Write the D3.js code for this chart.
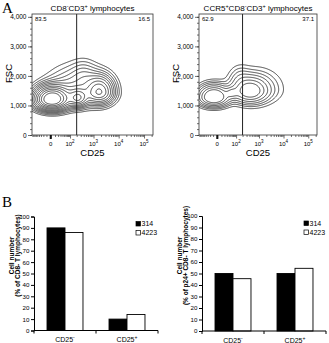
<!DOCTYPE html>
<html>
<head>
<meta charset="utf-8">
<script src="https://cdn.jsdelivr.net/npm/d3@7"></script>
<style>
  body { margin: 0; background: #fff; }
  svg { display: block; font-family: "Liberation Sans", Arial, sans-serif; }
</style>
</head>
<body>
<div id="fig"></div>
<script>
// ---- panel A : flow contour plots ----
const fscTicks = [0, 1000, 2000, 3000, 4000]
const fscMinorTicks = d3.range(0, 4001, 200)
const cd25Ticks = [0, 1e2, 1e3, 1e4, 1e5]
const cd25TickLabels = [["0", ""], ["10", "2"], ["10", "3"], ["10", "4"], ["10", "5"]]
const cd25MinorTicks = [-90, -80, -70, -60, -50, -40, -30, -20, -10, 10, 20, 30, 40, 50, 60, 70, 80, 90,
  200, 300, 400, 500, 600, 700, 800, 900, 2000, 3000, 4000, 5000, 6000, 7000, 8000, 9000,
  20000, 30000, 40000, 50000, 60000, 70000, 80000, 90000, 200000]
const gateCD25 = 200
const leftTitle = [["CD8", "-"], ["CD3", "+"], [" lymphocytes", ""]]
const rightTitle = [["CCR5", "+"], ["CD8", "-"], ["CD3", "+"], [" lymphocytes", ""]]
const leftQuadrants = ["83.5", "16.5"]
const rightQuadrants = ["62.9", "37.1"]
// populations: [CD25 centre, FSC centre, CD25 spread (display units), FSC spread below, FSC spread above, weight]
const leftPops = [
  [2, 1200, 0.9, 200, 260, 1.0],
  [230, 1230, 0.5, 160, 200, 0.35],
  [1800, 1450, 0.75, 230, 330, 0.42],
  [200, 1450, 1.6, 300, 500, 0.17],
  [400, 2050, 0.7, 250, 300, 0.05]
]
const rightPops = [
  [-8, 1280, 0.8, 170, 230, 1.0],
  [60, 1420, 0.35, 110, 120, 0.25],
  [400, 1480, 0.9, 220, 260, 0.65],
  [750, 1550, 1.3, 280, 380, 0.2],
  [150, 1950, 0.6, 250, 250, 0.08]
]
const leftLevels = [0.02, 0.035, 0.055, 0.08, 0.11, 0.15, 0.2, 0.27, 0.35, 0.45, 0.57, 0.72]
const rightLevels = [0.03, 0.06, 0.1, 0.16, 0.25, 0.38, 0.55]

// ---- panel B : bar charts ----
const barCategories = ["CD25-", "CD25+"]
const barSeries = ["314", "4223"]
const cd8Values314 = [90, 10]
const cd8Values4223 = [86, 14]
const p24Values314 = [50, 50]
const p24Values4223 = [45.5, 54.5]
const barYTicks = [0, 10, 20, 30, 40, 50, 60, 70, 80, 90, 100]

const W = 329, H = 343
const svg = d3.select("#fig").append("svg").attr("width", W).attr("height", H)

// text with small raised parts, parts = [[base, sup], ...]
function richText(sel, parts, supSize) {
  let shift = 0
  parts.forEach(([base, sup]) => {
    const b = sel.append("tspan").text(base)
    if (shift) { b.attr("dy", shift); shift = 0 }
    if (sup) {
      sel.append("tspan").attr("font-size", supSize).attr("dy", -3).text(sup)
      shift = 3
    }
  })
  return sel
}

const symC = 21
const toDisplay = v => Math.sign(v) * Math.log1p(Math.abs(v) / symC)

function flowPlot(opts) {
  const {x0, x1, y0, y1, pops, levels, title, quads, id} = opts
  const g = svg.append("g")

  const x = d3.scaleSymlog().constant(symC).domain([-94, 226000]).range([x0, x1])
  const y = d3.scaleLinear().domain([0, 4096]).range([y1, y0])

  // density grid (1px cells) extended left of the frame, then clipped
  const gx0 = x0 - 25
  const nx = Math.round(x1 - gx0), ny = Math.round(y1 - y0)
  const values = new Float64Array(nx * ny)
  const popsD = pops.map(p => [toDisplay(p[0]), p[1], p[2], p[3], p[4], p[5]])
  let max = 0
  for (let j = 0; j < ny; j++) {
    const fsc = y.invert(y0 + j + 0.5)
    for (let i = 0; i < nx; i++) {
      const u = toDisplay(x.invert(gx0 + i + 0.5))
      let d = 0
      popsD.forEach(([uc, vc, su, svd, svu, w]) => {
        const sv = fsc < vc ? svd : svu
        d += w * Math.exp(-0.5 * ((u - uc) / su) ** 2 - 0.5 * ((fsc - vc) / sv) ** 2)
      })
      values[j * nx + i] = d
      if (d > max) max = d
    }
  }
  const contours = d3.contours().size([nx, ny]).thresholds(levels.map(l => l * max))(values)

  svg.append("defs").append("clipPath").attr("id", id)
    .append("rect").attr("x", x0).attr("y", y0).attr("width", x1 - x0).attr("height", y1 - y0)

  g.append("g").attr("clip-path", `url(#${id})`)
    .selectAll("path").data(contours).join("path")
    .attr("d", d3.geoPath(d3.geoIdentity().translate([gx0, y0])))
    .attr("fill", "none").attr("stroke", "#111").attr("stroke-width", 0.75)

  // gate line and frame
  g.append("line").attr("x1", x(gateCD25)).attr("x2", x(gateCD25)).attr("y1", y0).attr("y2", y1)
    .attr("stroke", "#222").attr("stroke-width", 1)
  g.append("rect").attr("x", x0).attr("y", y0).attr("width", x1 - x0).attr("height", y1 - y0)
    .attr("fill", "none").attr("stroke", "#333").attr("stroke-width", 0.8)

  // y axis
  const yAxisMinor = d3.axisLeft(y).tickValues(fscMinorTicks).tickSize(2).tickFormat("")
  const yAxis = d3.axisLeft(y).tickValues(fscTicks).tickSize(4).tickPadding(1.5)
  g.append("g").attr("transform", `translate(${x0},0)`).call(yAxisMinor)
  g.append("g").attr("transform", `translate(${x0},0)`).call(yAxis)
    .attr("font-size", 6.5).attr("font-family", null)
  g.selectAll(".domain").remove()
  g.selectAll(".tick line").attr("stroke", "#333").attr("stroke-width", 0.7)

  // x axis
  const xAxisMinor = d3.axisBottom(x).tickValues(cd25MinorTicks).tickSize(2).tickFormat("")
  const xAxis = d3.axisBottom(x).tickValues(cd25Ticks).tickSize(3.5).tickFormat("")
  const xg = g.append("g").attr("transform", `translate(0,${y1})`)
  xg.append("g").call(xAxisMinor)
  xg.append("g").call(xAxis)
  xg.selectAll(".domain").remove()
  xg.selectAll(".tick line").attr("stroke", "#333").attr("stroke-width", 0.7)
  xg.append("line").attr("x1", x(0)).attr("x2", x(0)).attr("y1", 0).attr("y2", 4)
    .attr("stroke", "#111").attr("stroke-width", 2)
  cd25Ticks.forEach((v, k) => {
    const t = g.append("text").attr("x", x(v)).attr("y", y1 + 11)
      .attr("text-anchor", "middle").attr("font-size", 6)
    richText(t, [cd25TickLabels[k]], 4.5)
  })

  // labels
  g.append("text").attr("x", (x0 + x1) / 2).attr("y", y1 + 21).attr("text-anchor", "middle")
    .attr("font-size", 9.5).text("CD25")
  g.append("text").attr("transform", `translate(${x0 - 20},${(y0 + y1) / 2 - 1}) rotate(-90)`)
    .attr("text-anchor", "middle").attr("font-size", 9.5).text("FSC")
  richText(g.append("text").attr("x", (x0 + x1) / 2).attr("y", y0 - 3).attr("text-anchor", "middle")
    .attr("font-size", 8), title, 5.5)
  g.append("text").attr("x", x0 + 3).attr("y", y0 + 6.5).attr("font-size", 6).text(quads[0])
  g.append("text").attr("x", x1 - 3).attr("y", y0 + 6.5).attr("font-size", 6)
    .attr("text-anchor", "end").text(quads[1])
}

flowPlot({x0: 32, x1: 153, y0: 14, y1: 135, pops: leftPops, levels: leftLevels,
  title: leftTitle, quads: leftQuadrants, id: "clipA1"})
flowPlot({x0: 199, x1: 317, y0: 14, y1: 135, pops: rightPops, levels: rightLevels,
  title: rightTitle, quads: rightQuadrants, id: "clipA2"})

function barChart(opts) {
  const {x0, x1, y0, y1, v1, v2, yLabel} = opts
  const g = svg.append("g")
  const x = d3.scaleBand().domain(barCategories).range([x0, x1]).paddingInner(0.42).paddingOuter(0.21)
  const xs = d3.scaleBand().domain(barSeries).range([0, x.bandwidth()])
  const y = d3.scaleLinear().domain([0, 100]).range([y1, y0])
  const rows = barCategories.map((c, i) => ({cat: c, vals: [v1[i], v2[i]]}))

  const grp = g.selectAll(".grp").data(rows).join("g").attr("transform", d => `translate(${x(d.cat)},0)`)
  grp.selectAll("rect").data(d => d.vals.map((v, k) => ({s: barSeries[k], v}))).join("rect")
    .attr("x", d => xs(d.s)).attr("width", xs.bandwidth())
    .attr("y", d => y(d.v)).attr("height", d => y(0) - y(d.v))
    .attr("fill", d => d.s === "314" ? "#000" : "#fff")
    .attr("stroke", "#000").attr("stroke-width", 0.9)

  const yAxis = d3.axisLeft(y).tickValues(barYTicks).tickSize(3).tickPadding(1.5)
  g.append("g").attr("transform", `translate(${x0},0)`).call(yAxis)
    .attr("font-size", 6.2).attr("font-family", null)
  g.append("line").attr("x1", x0).attr("x2", x1).attr("y1", y1).attr("y2", y1).attr("stroke", "#000")
  const step = x.step()
  const bounds = [x0, x0 + step, x1]
  g.selectAll(".ctick").data(bounds).join("line")
    .attr("x1", d => d).attr("x2", d => d).attr("y1", y1).attr("y2", y1 + 3).attr("stroke", "#000")
  g.selectAll(".tick line").attr("stroke", "#000")
  g.selectAll(".domain").attr("stroke", "#000")

  barCategories.forEach(c => {
    const t = g.append("text").attr("x", x(c) + x.bandwidth() / 2).attr("y", y1 + 11.5)
      .attr("text-anchor", "middle").attr("font-size", 7)
    richText(t, [[c.slice(0, 4), c.slice(4)]], 5)
  })

  const lt = g.append("text").attr("transform", `translate(${x0 - 20.5},${(y0 + y1) / 2 - 18}) rotate(-90)`)
    .attr("text-anchor", "middle").attr("font-size", 6.5).attr("font-weight", "bold")
  lt.append("tspan").attr("x", 0).attr("dy", 0).text("Cell number")
  lt.append("tspan").attr("x", 0).attr("dy", 6.3).text(yLabel)

  barSeries.forEach((s, k) => {
    const ly = y0 + 5 + k * 9
    g.append("rect").attr("x", x1 - 22).attr("y", ly).attr("width", 4.5).attr("height", 4.5)
      .attr("fill", s === "314" ? "#000" : "#fff").attr("stroke", "#000").attr("stroke-width", 0.7)
    g.append("text").attr("x", x1 - 16.5).attr("y", ly + 4.7).attr("font-size", 7).text(s)
  })
}

barChart({x0: 34, x1: 158, y0: 216.5, y1: 330.5, v1: cd8Values314, v2: cd8Values4223,
  yLabel: "(% of CD8- T lymphocytes)"})
barChart({x0: 202, x1: 326, y0: 216, y1: 331, v1: p24Values314, v2: p24Values4223,
  yLabel: "(% of p24+ CD8- T lymphocytes)"})

// panel letters
svg.append("text").attr("x", 2).attr("y", 13).attr("font-family", "Liberation Serif, serif")
  .attr("font-size", 15).text("A")
svg.append("text").attr("x", 2).attr("y", 207).attr("font-family", "Liberation Serif, serif")
  .attr("font-size", 15).text("B")
</script>
</body>
</html>
